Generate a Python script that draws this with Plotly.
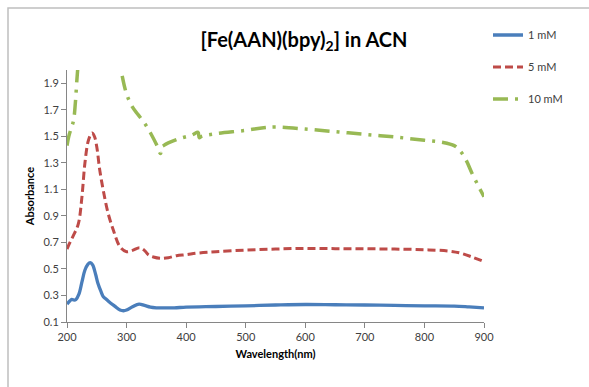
import plotly.graph_objects as go

# ---- data ----
wl_1mM = [200, 205, 208, 212, 215, 220, 225, 230, 235, 239, 243, 248, 252, 257, 261, 265, 270, 280, 289, 295, 300,
          310, 321, 330, 340, 350, 360, 380, 400, 450, 500, 550, 600, 650, 700, 750, 800, 850, 875, 900]
abs_1mM = [0.235, 0.26, 0.27, 0.265, 0.27, 0.31, 0.40, 0.49, 0.535, 0.547, 0.53, 0.46, 0.39, 0.33, 0.29, 0.275, 0.255,
           0.22, 0.19, 0.185, 0.19, 0.215, 0.235, 0.225, 0.212, 0.207, 0.206, 0.207, 0.212, 0.217, 0.222, 0.228, 0.232,
           0.23, 0.228, 0.225, 0.222, 0.22, 0.214, 0.207]

wl_5mM = [200, 205, 211, 219, 225, 230, 236, 242, 246, 250, 255, 261, 269, 278, 289, 300, 310, 322, 330, 337, 345,
          356, 370, 384, 400, 420, 450, 500, 550, 600, 650, 700, 750, 800, 840, 860, 880, 900]
abs_5mM = [0.65, 0.70, 0.755, 0.84, 1.04, 1.295, 1.47, 1.525, 1.50, 1.42, 1.245, 1.09, 0.92, 0.79, 0.667, 0.63, 0.64,
           0.66, 0.64, 0.605, 0.59, 0.58, 0.585, 0.60, 0.608, 0.62, 0.63, 0.642, 0.65, 0.655, 0.653, 0.652, 0.65,
           0.645, 0.635, 0.62, 0.59, 0.555]

wl_10mM = [200, 203, 207, 211, 214, 217, 220, 230, 245, 260, 280, 292, 300, 310, 320, 333, 342, 350, 357, 359, 362,
           370, 390, 410, 420, 422, 426, 450, 500, 530, 550, 600, 650, 700, 750, 800, 830, 850, 860, 870, 880, 890, 900]
abs_10mM = [1.43, 1.50, 1.56, 1.62, 1.75, 1.95, 2.10, 2.40, 2.60, 2.60, 2.30, 1.97, 1.82, 1.72, 1.66, 1.58, 1.51,
            1.44, 1.37, 1.42, 1.43, 1.45, 1.485, 1.51, 1.53, 1.49, 1.50, 1.52, 1.545, 1.565, 1.57, 1.555, 1.535,
            1.515, 1.495, 1.47, 1.455, 1.43, 1.39, 1.32, 1.22, 1.13, 1.045]

series_names = ["1 mM", "5 mM", "10 mM"]
x_ticks = [200, 300, 400, 500, 600, 700, 800, 900]
y_ticks = [0.1, 0.3, 0.5, 0.7, 0.9, 1.1, 1.3, 1.5, 1.7, 1.9]

FONT = "Lato"
W, H = 589, 387
L, R, T, B = 67, 105, 70, 65
pw, ph = W - L - R, H - T - B


def px_x(p):
    return (p - L) / pw


def px_y(p):
    return (H - B - p) / ph


fig = go.Figure()
fig.add_trace(go.Scatter(x=wl_1mM, y=abs_1mM, mode="lines", name=series_names[0], showlegend=True,
                         line=dict(color="#4A7EBB", width=3.3), line_shape="spline", legend="legend"))
fig.add_trace(go.Scatter(x=wl_5mM, y=abs_5mM, mode="lines", name=series_names[1], showlegend=True,
                         line=dict(color="#BE4B48", width=3, dash="8px,4px"), line_shape="spline",
                         legend="legend2"))
fig.add_trace(go.Scatter(x=wl_10mM, y=abs_10mM, mode="lines", name=series_names[2], showlegend=True,
                         line=dict(color="#98B954", width=3.5, dash="15px,7px,3px,7px"), line_shape="spline",
                         legend="legend3"))

legend_common = dict(xanchor="left", yanchor="middle", bgcolor="rgba(0,0,0,0)",
                     font=dict(family=FONT, size=11, color="#404040"), itemwidth=30)

fig.update_layout(
    width=W, height=H,
    margin=dict(l=L, r=R, t=T, b=B),
    showlegend=True,
    paper_bgcolor="white", plot_bgcolor="white",
    font=dict(family=FONT, color="#404040"),
    title=dict(text="<b>[Fe(AAN)(bpy)<sub>2</sub>] in ACN</b>", x=304 / W, xanchor="center",
               y=1 - 40 / H, yanchor="middle", font=dict(family=FONT, size=20, color="#000000")),
    legend=dict(x=px_x(488), y=px_y(35), **legend_common),
    legend2=dict(x=px_x(488), y=px_y(67), **legend_common),
    legend3=dict(x=px_x(488), y=px_y(99), **legend_common),
    xaxis=dict(range=[200, 900], tickvals=x_ticks, ticktext=[str(v) for v in x_ticks],
               showgrid=False, zeroline=False, showline=True, linecolor="#868686", linewidth=1,
               ticks="outside", ticklen=5, tickcolor="#868686",
               tickfont=dict(family=FONT, size=11, color="#404040"),
               title=dict(text="<b>Wavelength(nm)</b>", font=dict(family=FONT, size=11, color="#000000"),
                          standoff=8)),
    yaxis=dict(range=[0.1, 2.0], tickvals=y_ticks, ticktext=[f"{v:.1f}" for v in y_ticks],
               showgrid=False, zeroline=False, showline=True, linecolor="#868686", linewidth=1,
               ticks="outside", ticklen=5, tickcolor="#868686",
               tickfont=dict(family=FONT, size=11, color="#404040"),
               title=dict(text="<b>Absorbance</b>", font=dict(family=FONT, size=11, color="#000000"),
                          standoff=6)),
    shapes=[dict(type="rect", xref="paper", yref="paper",
                 x0=px_x(8), x1=px_x(W + 10), y0=px_y(H + 10), y1=px_y(8),
                 line=dict(color="#BFBFBF", width=1.5), fillcolor="rgba(0,0,0,0)", layer="below")],
)

fig.write_html("out.html")
